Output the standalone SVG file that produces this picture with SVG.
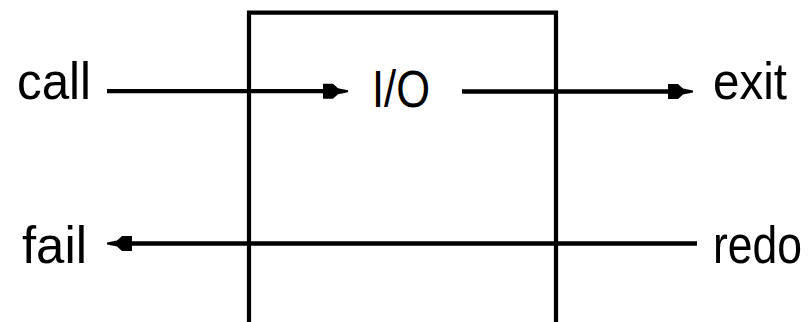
<svg xmlns="http://www.w3.org/2000/svg" width="812" height="322" viewBox="0 0 812 322">
<style>
.bg{fill:#fff}
.frame{fill:none;stroke:#000;stroke-width:4.2}
.conn{fill:none;stroke:#000;stroke-width:4.3}
.lbl{font-family:"Liberation Sans",Arial,sans-serif;font-size:52px;fill:#000}
</style>
<defs>
<marker id="arr" markerUnits="userSpaceOnUse" viewBox="-27 -9 28 18" markerWidth="28" markerHeight="18" refX="-12" refY="0" orient="auto">
<path d="M0,-1 L-10,-3 L-15,-7.5 L-25,-7.5 L-25,7.5 L-15,7.5 L-10,3 L0,1 Z" fill="#000"/>
</marker>
</defs>
<rect class="bg" x="0" y="0" width="812" height="322"/>
<g id="io-box">
<path class="frame" d="M249,322 V12.7 H556 V322"/>
<text class="lbl" x="372" y="107" textLength="58" lengthAdjust="spacingAndGlyphs">I/O</text>
</g>
<g id="call">
<text class="lbl" x="17" y="98.5" textLength="74" lengthAdjust="spacingAndGlyphs">call</text>
</g>
<g id="exit">
<text class="lbl" x="713" y="99" textLength="74" lengthAdjust="spacingAndGlyphs">exit</text>
</g>
<g id="fail">
<text class="lbl" x="22" y="263" textLength="65" lengthAdjust="spacingAndGlyphs">fail</text>
</g>
<g id="redo">
<text class="lbl" transform="translate(713,263) scale(1,1.13)" x="0" y="0" style="font-size:46px" textLength="89" lengthAdjust="spacingAndGlyphs">redo</text>
</g>
<g id="connectors">
<path class="conn" d="M107,91.2 H336" marker-end="url(#arr)"/>
<path class="conn" d="M462,91.5 H681" marker-end="url(#arr)"/>
<path class="conn" d="M697,243.5 H119" marker-end="url(#arr)"/>
</g>
</svg>
